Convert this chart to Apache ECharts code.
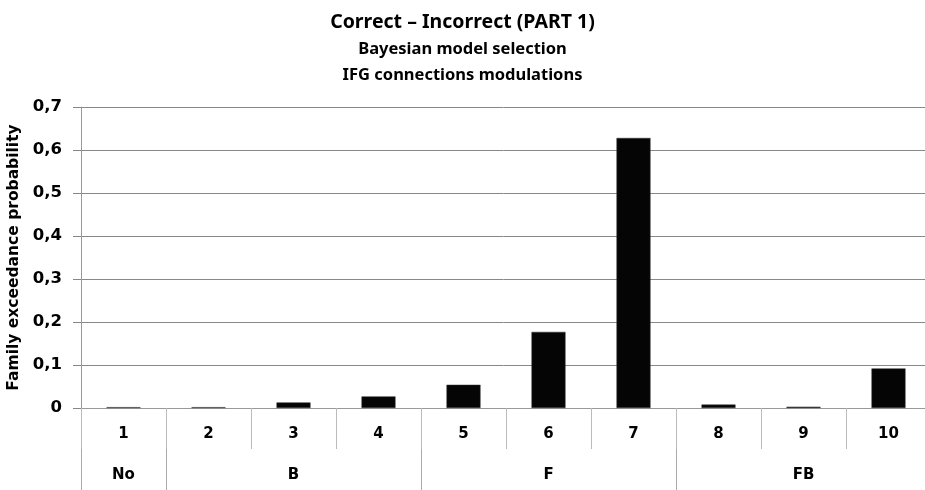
<!DOCTYPE html>
<html><head><meta charset="utf-8">
<script src="https://cdn.jsdelivr.net/npm/echarts@6/dist/echarts.min.js"></script>
<style>html,body{margin:0;padding:0;background:#fff}#c{width:925px;height:490px}</style>
</head><body><div id="c"></div>
<script>
const categories = ['1','2','3','4','5','6','7','8','9','10'];
const groupLabels = ['No','','B','','','F','','','FB',''];
const groupStarts = [0,1,4,7];
const values = [0.002,0.002,0.013,0.027,0.054,0.177,0.628,0.008,0.003,0.092];
const yTicks = [0,0.1,0.2,0.3,0.4,0.5,0.6,0.7];
const titleLines = ['Correct – Incorrect (PART 1)','Bayesian model selection','IFG connections modulations'];

const chart = echarts.init(document.getElementById('c'), null, {renderer:'canvas'});
const lblFont = {fontFamily:'DejaVu Sans', fontWeight:'bold', fontSize:15, color:'#000'};
chart.setOption({
  animation:false,
  title:[
    {text:titleLines[0], left:'center', top:7, textStyle:{fontFamily:'Noto Sans', fontWeight:'bold', fontSize:19.5, color:'#000'}},
    {text:titleLines[1], left:'center', top:36, textStyle:{fontFamily:'Noto Sans', fontWeight:'bold', fontSize:16.5, color:'#000'}},
    {text:titleLines[2], left:'center', top:62, textStyle:{fontFamily:'Noto Sans', fontWeight:'bold', fontSize:16.5, color:'#000'}}
  ],
  grid:{left:81, top:107, right:-6, bottom:82, containLabel:false, outerBoundsMode:'none'},
  xAxis:[
    {type:'category', data:categories, position:'bottom',
      axisLine:{show:true, lineStyle:{color:'#999', width:1}},
      axisTick:{show:true, length:41, interval:0, lineStyle:{color:'#bbb', width:1}},
      axisLabel:Object.assign({margin:19, interval:0}, lblFont)},
    {type:'category', data:groupLabels, position:'bottom', offset:41,
      axisLine:{show:false},
      axisTick:{show:true, length:41, interval:function(i){return groupStarts.indexOf(i)>=0;}, lineStyle:{color:'#aaa', width:1}},
      axisLabel:Object.assign({margin:19, interval:0}, lblFont)}
  ],
  yAxis:{type:'value', min:0, max:0.7, interval:0.1,
    name:'Family exceedance probability', nameLocation:'middle', nameGap:53,
    nameTextStyle:{fontFamily:'DejaVu Sans', fontWeight:'bold', fontSize:15.5, color:'#000'},
    axisLine:{show:true, lineStyle:{color:'#999'}},
    axisTick:{show:true, length:8, lineStyle:{color:'#888'}},
    splitLine:{show:true, lineStyle:{color:'#888', width:1}},
    axisLabel:Object.assign({margin:19, formatter:function(v){return String(Math.round(v*10)/10).replace('.',',');}}, lblFont, {fontSize:16.5})
  },
  series:[{type:'bar', data:values, barWidth:'40%', xAxisIndex:0,
    itemStyle:{color:'#050505', borderColor:'#333', borderWidth:0.5}}]
});
</script></body></html>
